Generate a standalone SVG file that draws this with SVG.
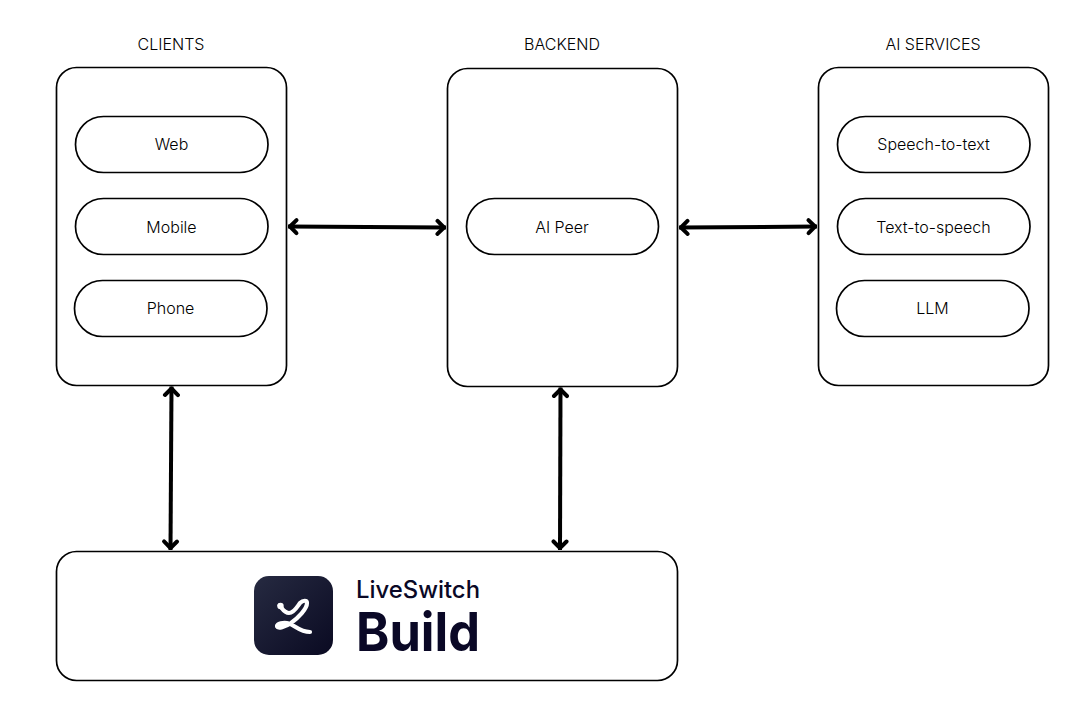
<svg xmlns="http://www.w3.org/2000/svg" width="1079" height="719" viewBox="0 0 1079 719">
<defs>
<linearGradient id="logoGrad" x1="0" y1="0" x2="1" y2="1"><stop offset="0" stop-color="#262a41"/><stop offset="1" stop-color="#0a0a22"/></linearGradient>
<marker id="open" viewBox="0 0 18 18" refX="16.500" refY="9" markerWidth="18" markerHeight="18" markerUnits="userSpaceOnUse" orient="auto-start-reverse"><path d="M8 2.500 L14.500 9 L8 15.500" fill="none" stroke="#000" stroke-width="4" stroke-linecap="round" stroke-linejoin="round"/></marker>
</defs>
<style>
.box{fill:#fff;stroke:#000;stroke-width:1.700}
.pill{fill:#fff;stroke:#000;stroke-width:1.700}
.t{font-family:Inter,"Liberation Sans",sans-serif;font-size:16px;font-weight:300;fill:#000;text-anchor:middle}
.c{fill:none;stroke:#000;stroke-width:4;marker-start:url(#open);marker-end:url(#open)}
.brand{font-family:Inter,"Liberation Sans",sans-serif;fill:#0a0826}
</style>
<rect width="1079" height="719" fill="#fff"/>
<g id="clients">
<text class="t" x="171" y="49.500">CLIENTS</text>
<rect class="box" x="56.500" y="67.500" width="230" height="318" rx="20"/>
<g id="web"><rect class="pill" x="75.500" y="116.500" width="192.500" height="56" rx="28"/><text class="t" x="171.500" y="149.500">Web</text></g>
<g id="mobile"><rect class="pill" x="75.500" y="198.500" width="192.500" height="56" rx="28"/><text class="t" x="171.500" y="232.500">Mobile</text></g>
<g id="phone"><rect class="pill" x="74.500" y="280.500" width="192.500" height="56" rx="28"/><text class="t" x="170.500" y="313.500">Phone</text></g>
</g>
<g id="backend">
<text class="t" x="562" y="49.500">BACKEND</text>
<rect class="box" x="447.500" y="68.500" width="230" height="318" rx="20"/>
<g id="ai-peer"><rect class="pill" x="466.500" y="198.500" width="192" height="56" rx="28"/><text class="t" x="562" y="232.500">AI Peer</text></g>
</g>
<g id="ai-services">
<text class="t" x="933" y="49.500">AI SERVICES</text>
<rect class="box" x="818.500" y="67.500" width="230" height="318" rx="20"/>
<g id="stt"><rect class="pill" x="837.500" y="116.500" width="192.500" height="56" rx="28"/><text class="t" x="933.500" y="149.500">Speech-to-text</text></g>
<g id="tts"><rect class="pill" x="837.500" y="198.500" width="192.500" height="56" rx="28"/><text class="t" x="933.500" y="232.500">Text-to-speech</text></g>
<g id="llm"><rect class="pill" x="836.500" y="280.500" width="192.500" height="56" rx="28"/><text class="t" x="932.500" y="313.500">LLM</text></g>
</g>
<g id="liveswitch-build">
<rect class="box" x="56.500" y="551.500" width="621" height="129" rx="20"/>
<rect x="254" y="576" width="79" height="79" rx="15" fill="url(#logoGrad)"/>
<path d="M279.500 605.500 C282 608 284 613 289 613 C294 613 297 607 300 603 C303 600 307 600 307 603 C307 609 298 618 291 623 C285 627 278 629 277 626.500 C276 623.500 284 622 289 623.500 C295 625.500 300 632 310 632" fill="none" stroke="#fff" stroke-width="4.200" stroke-linecap="round" stroke-linejoin="round"/>
<circle cx="280.500" cy="606" r="3.200" fill="#fff"/>
<text class="brand" x="356" y="597.500" font-size="24" font-weight="450" textLength="124" lengthAdjust="spacingAndGlyphs">LiveSwitch</text>
<text class="brand" x="356" y="651" font-size="54" font-weight="700" textLength="124" lengthAdjust="spacingAndGlyphs">Build</text>
</g>
<g id="connectors">
<line class="c" x1="288" y1="226.500" x2="446" y2="227.500"/>
<line class="c" x1="679" y1="227.500" x2="817" y2="226.500"/>
<line class="c" x1="171.500" y1="386.500" x2="170.500" y2="550"/>
<line class="c" x1="560.500" y1="387.500" x2="560" y2="550"/>
</g>
</svg>
